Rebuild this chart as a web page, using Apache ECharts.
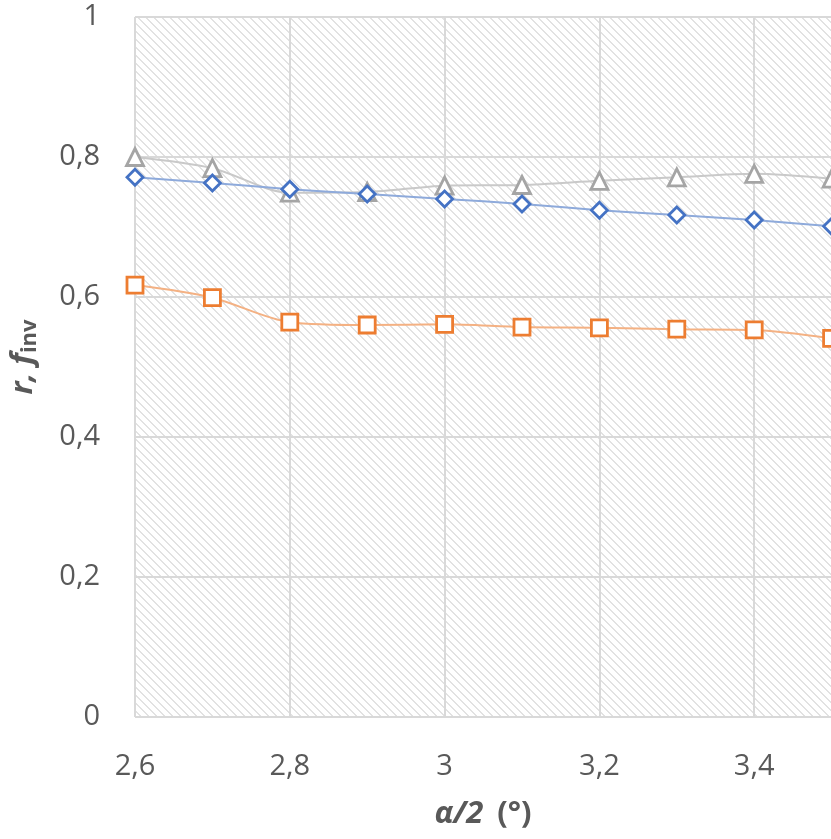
<!DOCTYPE html>
<html><head><meta charset="utf-8">
<script src="https://cdn.jsdelivr.net/npm/echarts@6/dist/echarts.min.js"></script>
<style>html,body{margin:0;padding:0;background:#fff}#c{width:831px;height:839px}</style>
</head><body><div id="c"></div>
<script>
var xValues = [2.6, 2.7, 2.8, 2.9, 3.0, 3.1, 3.2, 3.3, 3.4, 3.5];
var triangleSeries = [0.800, 0.784, 0.749, 0.750, 0.759, 0.760, 0.766, 0.771, 0.776, 0.769];
var diamondSeries = [0.771, 0.763, 0.754, 0.747, 0.740, 0.733, 0.724, 0.717, 0.710, 0.701];
var squareSeries = [0.617, 0.599, 0.564, 0.560, 0.561, 0.557, 0.556, 0.554, 0.553, 0.541];

function pairs(vals){ return xValues.map(function(x,i){ return [x, vals[i]]; }); }

var tile = document.createElement('canvas');
var s = 8; tile.width = s; tile.height = s;
var g = tile.getContext('2d');
g.fillStyle = '#ffffff'; g.fillRect(0,0,s,s);
g.fillStyle = '#e2e2e2';
for (var i = 0; i < s; i++) { g.fillRect(i, i, 1, 1); g.fillRect((i+1)%s, i, 1, 1); }

var font = "'Open Sans', 'Liberation Sans', sans-serif";
var chart = echarts.init(document.getElementById('c'), null, {renderer:'canvas'});
function ser(name, vals, sym, size, mcol, lcol){
  return {name:name, type:'line', data:pairs(vals), smooth:0.3, symbol:sym, symbolSize:size,
    lineStyle:{color:lcol, width:2}, itemStyle:{color:'#ffffff', borderColor:mcol, borderWidth:2.8}, z:3};
}
function fmt(v){ return (Math.round(v*10)/10).toString().replace('.', ','); }
chart.setOption({
  animation:false,
  grid:{left:135, top:17, width:774, height:700, show:true, borderWidth:0, outerBoundsMode:'none', containLabel:false,
    backgroundColor:{image:tile, repeat:'repeat'}},
  xAxis:{type:'value', min:2.6, max:3.6, interval:0.2,
    axisLine:{show:false}, axisTick:{show:false},
    splitLine:{show:true, lineStyle:{color:'#d9d9d9', width:2}},
    axisLabel:{margin:35, fontSize:29, color:'#595959', fontFamily:font, formatter:fmt},
    name:'{i|α/2}{b| (°)}', nameLocation:'middle', nameGap:82,
    nameTextStyle:{padding:[0,78,0,0], rich:{
      i:{fontSize:31, fontWeight:'bold', fontStyle:'italic', color:'#595959', fontFamily:font},
      b:{fontSize:31, fontWeight:'bold', color:'#595959', fontFamily:font, padding:[0,0,0,6]}}}},
  yAxis:{type:'value', min:0, max:1, interval:0.2,
    axisLine:{show:false}, axisTick:{show:false},
    splitLine:{show:true, lineStyle:{color:'#d9d9d9', width:2}},
    axisLabel:{margin:35, fontSize:29, color:'#595959', fontFamily:font, formatter:fmt},
    name:'{i|r, f}{s|inv}', nameLocation:'middle', nameGap:94,
    nameTextStyle:{padding:[0,0,0,20], rich:{
      i:{fontSize:31, fontWeight:'bold', fontStyle:'italic', color:'#595959', fontFamily:font},
      s:{fontSize:22, fontWeight:'bold', color:'#595959', fontFamily:font, padding:[14,0,0,0]}}}},
  series:[
    ser('triangles', triangleSeries, 'triangle', 17, '#a5a5a5', '#c9c9c9'),
    ser('diamonds', diamondSeries, 'diamond', 16, '#4472c4', '#8eaadb'),
    ser('squares', squareSeries, 'rect', 16, '#ed7d31', '#f4b183')
  ]
});
</script></body></html>
